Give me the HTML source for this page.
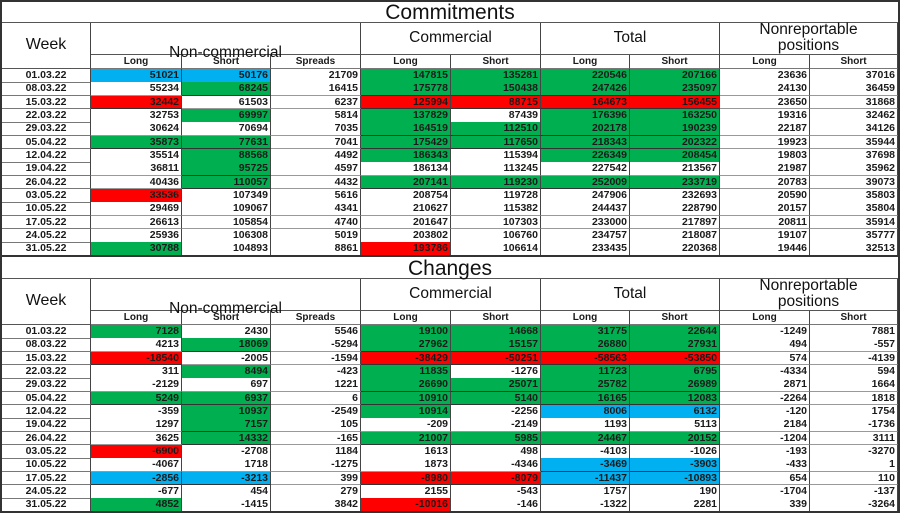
<!DOCTYPE html>
<html><head><meta charset="utf-8">
<style>
html,body{margin:0;padding:0;background:#fff;}
#root{position:relative;width:900px;height:513px;overflow:hidden;background:#fff;font-family:"Liberation Sans",sans-serif;color:#1a1a1a;}
.c{position:absolute;box-sizing:border-box;border-right:1px solid #444;border-bottom:1px solid #777;font-weight:bold;font-size:10.5px;line-height:12px;white-space:nowrap;overflow:hidden;}
.n{text-align:right;padding-right:2px;}
.w{text-align:center;}
.h{position:absolute;box-sizing:border-box;text-align:center;font-weight:normal;color:#111;}
.frame{position:absolute;left:0;top:0;width:900px;height:513px;box-sizing:border-box;border:2px solid #333;pointer-events:none;}
</style></head>
<body>
<div id="root"></div>
<script>
const weeks = ["01.03.22","08.03.22","15.03.22","22.03.22","29.03.22","05.04.22","12.04.22","19.04.22","26.04.22","03.05.22","10.05.22","17.05.22","24.05.22","31.05.22"];
const subHeaders = ["Long","Short","Spreads","Long","Short","Long","Short","Long","Short"];
const commitmentsValues = [
[51021,50176,21709,147815,135281,220546,207166,23636,37016],
[55234,68245,16415,175778,150438,247426,235097,24130,36459],
[32442,61503,6237,125994,88715,164673,156455,23650,31868],
[32753,69997,5814,137829,87439,176396,163250,19316,32462],
[30624,70694,7035,164519,112510,202178,190239,22187,34126],
[35873,77631,7041,175429,117650,218343,202322,19923,35944],
[35514,88568,4492,186343,115394,226349,208454,19803,37698],
[36811,95725,4597,186134,113245,227542,213567,21987,35962],
[40436,110057,4432,207141,119230,252009,233719,20783,39073],
[33536,107349,5616,208754,119728,247906,232693,20590,35803],
[29469,109067,4341,210627,115382,244437,228790,20157,35804],
[26613,105854,4740,201647,107303,233000,217897,20811,35914],
[25936,106308,5019,203802,106760,234757,218087,19107,35777],
[30788,104893,8861,193786,106614,233435,220368,19446,32513]];
const commitmentsColors = ["bbwggggww","wgwggggww","rwwrrrrww","wgwgwggww","wwwggggww","ggwggggww","wgwgwggww","wgwwwwwww","wgwggggww","rwwwwwwww","wwwwwwwww","wwwwwwwww","wwwwwwwww","gwwrwwwww"];
const changesValues = [
[7128,2430,5546,19100,14668,31775,22644,-1249,7881],
[4213,18069,-5294,27962,15157,26880,27931,494,-557],
[-18540,-2005,-1594,-38429,-50251,-58563,-53850,574,-4139],
[311,8494,-423,11835,-1276,11723,6795,-4334,594],
[-2129,697,1221,26690,25071,25782,26989,2871,1664],
[5249,6937,6,10910,5140,16165,12083,-2264,1818],
[-359,10937,-2549,10914,-2256,8006,6132,-120,1754],
[1297,7157,105,-209,-2149,1193,5113,2184,-1736],
[3625,14332,-165,21007,5985,24467,20152,-1204,3111],
[-6900,-2708,1184,1613,498,-4103,-1026,-193,-3270],
[-4067,1718,-1275,1873,-4346,-3469,-3903,-433,1],
[-2856,-3213,399,-8980,-8079,-11437,-10893,654,110],
[-677,454,279,2155,-543,1757,190,-1704,-137],
[4852,-1415,3842,-10016,-146,-1322,2281,339,-3264]];
const changesColors = ["gwwggggww","wgwggggww","rwwrrrrww","wgwgwggww","wwwggggww","ggwggggww","wgwgwbbww","wgwwwwwww","wgwggggww","rwwwwwwww","wwwwwbbww","bbwrrbbww","wwwwwwwww","gwwrwwwww"];

const root = document.getElementById('root');
const colX = [2,91,182,271,361,451,541,630,720,810,898];
const fill = {g:"#00b050",r:"#ff0000",b:"#00b0f0",w:"#ffffff"};
const rowH = 13.33;

function box(cls, x, y, w, h, text, extra){
  const d = document.createElement('div');
  d.className = cls;
  d.style.left = x+'px'; d.style.top = y+'px'; d.style.width = w+'px'; d.style.height = h+'px';
  if (extra) Object.assign(d.style, extra);
  d.innerHTML = text;
  root.appendChild(d);
  return d;
}

function section(top, title, values, colors, key){
  const tEl = box('h', 2, top, 896, 23, title, {fontSize:'21px', lineHeight:'25px', borderBottom:'1px solid #555'});
  
  
  const gy = top + 23, gh = 32;
  const wk = box('h', 2, gy, 89, gh+14, 'Week', {fontSize:'16px', lineHeight:'44px', borderRight:'1px solid #444', borderBottom:'1px solid #555'});
  
  
  const groups = [["Non-commercial",1,4,'22px 0 0 0'],["Commercial",4,6,'7px 0 0 0'],["Total",6,8,'7px 0 0 0'],["Nonreportable<br>positions",8,10,'-1px 0 0 0']];
  groups.forEach(g => {
    const el = box('h', colX[g[1]], gy, colX[g[2]]-colX[g[1]], gh, '<div style="margin:'+g[3]+'">'+g[0]+'</div>', {fontSize:'15.5px', lineHeight:'16px', borderRight:'1px solid #444', borderBottom:'1px solid #555'});
    
    
  });
  const sy = gy + gh;
  subHeaders.forEach((s,i) => {
    const el = box('c w', colX[i+1], sy, colX[i+2]-colX[i+1], 14, s, {fontSize:'10px', lineHeight:'14px'});
    
    
  });
  const ry = sy + 14;
  weeks.forEach((wkLabel, r) => {
    const y = ry + r*rowH;
    const wc = box('c w', 2, y, 89, rowH+0.5, wkLabel, {lineHeight:'13px'});
    
    
    values[r].forEach((v, i) => {
      const bg = fill[colors[r][i]];
      const el = box('c n', colX[i+1], y, colX[i+2]-colX[i+1], rowH+0.5, String(v), {background:bg, lineHeight:'13px', borderBottom: bg==='#ffffff' ? '1px solid #999' : '1px solid #333'});
      
      
    });
  });
}
section(0, 'Commitments', commitmentsValues, commitmentsColors, 'commitments');
section(256, 'Changes', changesValues, changesColors, 'changes');

const sep = document.createElement('div');
sep.style.cssText = 'position:absolute;left:0;top:255px;width:900px;height:2px;background:#333;';


root.appendChild(sep);
const frame = document.createElement('div');
frame.className = 'frame';


root.appendChild(frame);
</script>
</body></html>
